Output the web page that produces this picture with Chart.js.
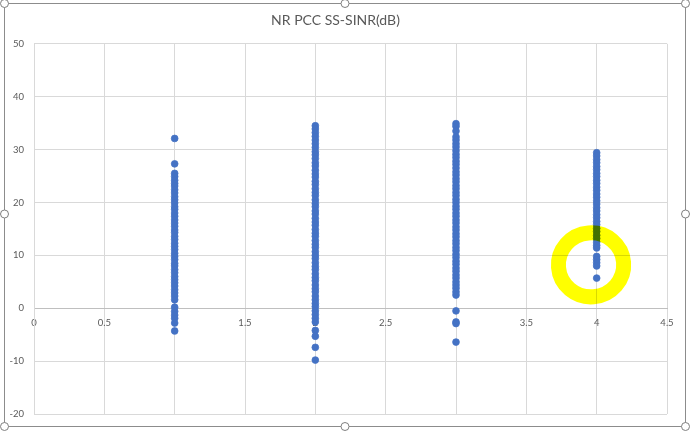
<!DOCTYPE html>
<html>
<head>
<meta charset="utf-8">
<script src="https://cdn.jsdelivr.net/npm/chart.js@4/dist/chart.umd.min.js"></script>
<style>
  html, body { margin: 0; padding: 0; background: #fff; }
  #wrap { width: 690px; height: 432px; position: relative; }
</style>
</head>
<body>
<div id="wrap"><canvas id="myChart"></canvas></div>
<script>
// ==== data
const chartTitle = 'NR PCC SS-SINR(dB)';
const xTicks = [0, 0.5, 1, 1.5, 2, 2.5, 3, 3.5, 4, 4.5];
const yTicks = [-20, -10, 0, 10, 20, 30, 40, 50];

const sinrAt1 = [32.1, 27.3, 25.5, 24.9, 24.2, 23.6, 23.1, 22.4, 21.8, 21.1, 20.5, 19.9, 19.2, 18.7,
  18.0, 17.4, 16.7, 16.1, 15.5, 14.8, 14.3, 13.6, 13.0, 12.3, 11.7, 11.1, 10.4, 9.8, 9.2, 8.5, 8.0,
  7.3, 6.7, 6.0, 5.4, 4.8, 4.2, 3.5, 2.9, 2.3, 1.6, 0.2, -0.6, -1.3, -1.9, -2.8, -4.3];
const sinrAt2 = [34.5, 33.9, 33.2, 32.5, 31.8, 31.1, 30.4, 29.6, 29.0, 28.3, 27.5, 26.9, 26.1, 25.4,
  24.8, 24.0, 23.4, 22.6, 21.9, 21.3, 20.5, 19.8, 19.2, 18.4, 17.8, 17.0, 16.3, 15.7, 14.9, 14.2,
  13.6, 12.8, 12.1, 11.5, 10.7, 10.0, 9.4, 8.6, 7.9, 7.3, 6.5, 5.8, 5.2, 4.4, 3.7, 3.1, 2.3, 1.6,
  0.9, 0.3, -0.5, -1.2, -1.9, -2.6, -4.2, -5.3, -7.4, -9.8];
const sinrAt3 = [34.9, 34.4, 33.5, 32.4, 31.8, 31.1, 30.5, 29.8, 29.1, 28.5, 27.8, 27.2, 26.5, 25.8,
  25.2, 24.5, 23.9, 23.2, 22.6, 21.9, 21.3, 20.6, 20.0, 19.3, 18.7, 18.0, 17.4, 16.7, 16.1, 15.4,
  14.8, 14.1, 13.5, 12.8, 12.2, 11.5, 10.9, 10.2, 9.6, 8.9, 8.3, 7.6, 7.0, 6.3, 5.7, 5.0, 4.4, 3.8,
  3.1, 2.5, -0.5, -2.6, -2.9, -6.4];
const sinrAt4 = [29.4, 28.8, 28.1, 27.5, 26.8, 26.2, 25.5, 24.9, 24.2, 23.6, 22.9, 22.3, 21.6, 21.0,
  20.3, 19.7, 19.0, 18.4, 17.7, 17.1, 16.4, 15.8, 15.1, 14.5, 13.8, 13.2, 12.5, 11.9, 11.4, 9.8,
  9.2, 8.6, 8.0, 5.7];
const seriesX = [1, 2, 3, 4];
const seriesY = [sinrAt1, sinrAt2, sinrAt3, sinrAt4];

// the yellow hand-drawn ring (in data units)
const ringCenter = { x: 3.96, y: 8.2 };
const ringRadius = { x: 0.232, y: 6.05 };

const points = [];
seriesX.forEach((x, i) => {
  seriesY[i].forEach((y) => points.push({ x: x, y: y }));
});

const textFont = 'Lato, "Open Sans", sans-serif';

// Excel chart frame with its resize handles
const framePlugin = {
  id: 'excelFrame',
  beforeDraw(chart) {
    const ctx = chart.ctx;
    ctx.save();
    ctx.fillStyle = '#ffffff';
    ctx.fillRect(0, 0, chart.width, chart.height);
    ctx.restore();
  },
  afterDraw(chart) {
    const ctx = chart.ctx;
    ctx.save();
    ctx.strokeStyle = '#8c8c8c';
    ctx.lineWidth = 1;
    ctx.strokeRect(4.5, 3.5, 681, 423);
    const handles = [[4.5, 3.5], [345, 3.5], [685.5, 3.5], [4.5, 214], [685.5, 214],
      [4.5, 426.5], [345, 426.5], [685.5, 426.5]];
    handles.forEach((h) => {
      ctx.beginPath();
      ctx.arc(h[0], h[1], 4, 0, Math.PI * 2);
      ctx.fillStyle = '#ffffff';
      ctx.fill();
      ctx.strokeStyle = '#7f7f7f';
      ctx.stroke();
    });
    ctx.restore();
  }
};

// yellow highlighter ring, multiplied over the points
const ringPlugin = {
  id: 'ring',
  afterDatasetsDraw(chart) {
    const ctx = chart.ctx;
    const xs = chart.scales.x;
    const ys = chart.scales.y;
    const cx = xs.getPixelForValue(ringCenter.x);
    const cy = ys.getPixelForValue(ringCenter.y);
    const rx = xs.getPixelForValue(ringCenter.x + ringRadius.x) - cx;
    const ry = cy - ys.getPixelForValue(ringCenter.y + ringRadius.y);
    ctx.save();
    ctx.globalCompositeOperation = 'multiply';
    ctx.strokeStyle = '#ffff00';
    ctx.lineWidth = 15;
    ctx.lineCap = 'round';
    ctx.beginPath();
    ctx.ellipse(cx, cy, rx, ry, -0.08, 0, Math.PI * 2);
    ctx.stroke();
    ctx.restore();
  }
};

const config = {
  type: 'scatter',
  data: {
    datasets: [{
      label: 'SS-SINR',
      data: points,
      backgroundColor: '#4472c4',
      borderColor: '#4472c4',
      borderWidth: 0.75,
      pointRadius: 3.4,
      pointHoverRadius: 3.4
    }]
  },
  options: {
    responsive: false,
    animation: false,
    devicePixelRatio: 1,
    layout: { padding: { left: 4, right: 23, top: 0, bottom: 18 } },
    plugins: {
      legend: { display: false },
      tooltip: { enabled: false },
      title: {
        display: true,
        text: chartTitle,
        color: '#595959',
        font: { family: textFont, size: 14, weight: 'normal' },
        padding: { top: 12, bottom: 15 }
      }
    },
    scales: {
      x: {
        type: 'linear',
        position: { y: 0 },
        min: 0,
        max: 4.5,
        afterBuildTicks: (scale) => { scale.ticks = xTicks.map((v) => ({ value: v })); },
        grid: { color: '#d9d9d9', drawTicks: false, lineWidth: 1 },
        border: { color: '#bfbfbf', width: 1 },
        ticks: {
          color: '#595959',
          font: { family: textFont, size: 9.5 },
          padding: 9,
          maxRotation: 0,
          autoSkip: false,
          callback: (v) => String(v)
        }
      },
      y: {
        type: 'linear',
        min: -20,
        max: 50,
        afterBuildTicks: (scale) => { scale.ticks = yTicks.map((v) => ({ value: v })); },
        afterFit: (scale) => { scale.width = 30; },
        grid: { color: '#d9d9d9', drawTicks: false, lineWidth: 1 },
        border: { color: '#d9d9d9', width: 1 },
        ticks: {
          color: '#595959',
          font: { family: textFont, size: 9.5 },
          padding: 10,
          callback: (v) => String(v)
        }
      }
    }
  },
  plugins: [framePlugin, ringPlugin]
};

const canvas = document.getElementById('myChart');
canvas.width = 690;
canvas.height = 432;
const myChart = new Chart(canvas, config);
</script>
</body>
</html>
